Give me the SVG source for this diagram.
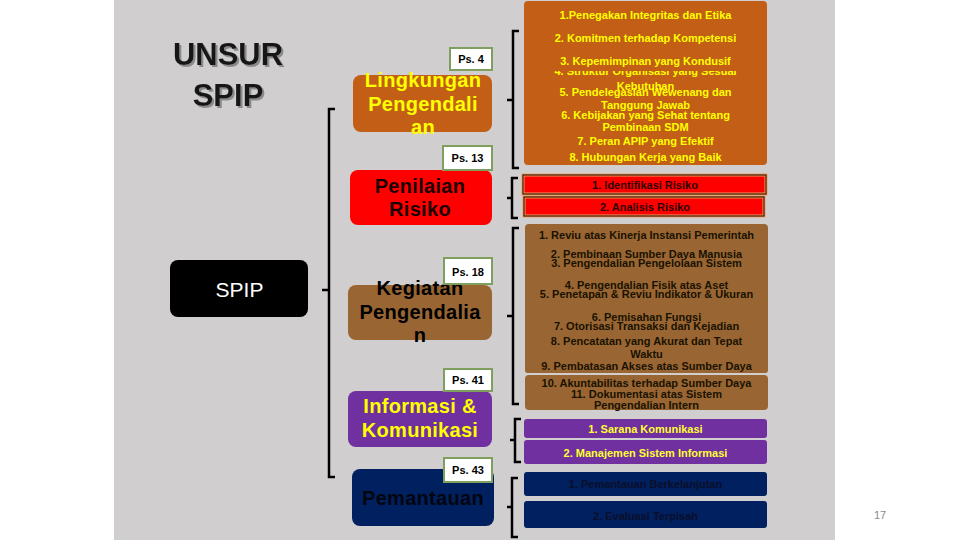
<svg xmlns="http://www.w3.org/2000/svg" width="960" height="540" viewBox="0 0 960 540">
<defs>
  <filter id="shadow" x="-10%" y="-10%" width="130%" height="140%">
    <feDropShadow dx="2" dy="2" stdDeviation="0.4" flood-color="#8A8A8A" flood-opacity="1"/>
  </filter>
</defs>
<style>
  text { font-family: "Liberation Sans", Arial, sans-serif; }
  .rt { font-weight: bold; font-size: 11px; text-anchor: middle; }
  .nt { font-weight: bold; font-size: 20px; text-anchor: middle; letter-spacing: 0.3px; }
  .ps rect { fill: #FFFFFF; stroke: #7F9F5F; stroke-width: 2; }
  .ps text { font-weight: bold; font-size: 11px; text-anchor: middle; fill: #000; }
  .br { fill: none; stroke: #000; stroke-width: 2.5; stroke-linejoin: miter; }
  .yel { fill: #FFFF00; }
  .dk { fill: #1A1200; }
</style>
<rect x="0" y="0" width="960" height="540" fill="#FFFFFF"/>
<rect x="114" y="0" width="721" height="540" fill="#D0CECF"/>

<g id="title" filter="url(#shadow)">
  <text x="228" y="65" class="nt" style="font-size:31px;fill:#151515;letter-spacing:0">UNSUR</text>
  <text x="228" y="106" class="nt" style="font-size:31px;fill:#151515;letter-spacing:0">SPIP</text>
</g>

<g id="node-spip">
  <rect x="170" y="260" width="138" height="57" rx="8" fill="#000000"/>
  <text x="239.5" y="297" style="font-size:21px;text-anchor:middle;fill:#FFFFFF">SPIP</text>
</g>

<g id="node-lingkungan">
  <rect x="353" y="75" width="139" height="57" rx="8" fill="#C25E16"/>
  <text x="423" y="87" class="nt yel">Lingkungan</text>
  <text x="423" y="111" class="nt yel">Pengendali</text>
  <text x="423" y="134" class="nt yel">an</text>
  <g class="ps"><rect x="450" y="48" width="42" height="22"/><text x="471" y="63">Ps. 4</text></g>
</g>

<g id="node-penilaian">
  <rect x="350" y="170" width="142" height="55" rx="8" fill="#FF0000"/>
  <text x="420" y="193" class="nt" fill="#1A0000">Penilaian</text>
  <text x="420" y="216" class="nt" fill="#1A0000">Risiko</text>
  <g class="ps"><rect x="443" y="146" width="49" height="24"/><text x="467.5" y="162">Ps. 13</text></g>
</g>

<g id="node-kegiatan">
  <rect x="348" y="285" width="144" height="55" rx="8" fill="#996633"/>
  <text x="420" y="295" class="nt" fill="#000">Kegiatan</text>
  <text x="420" y="319" class="nt" fill="#000">Pengendalia</text>
  <text x="420" y="342" class="nt" fill="#000">n</text>
  <g class="ps"><rect x="444" y="258" width="48" height="26"/><text x="468" y="276">Ps. 18</text></g>
</g>

<g id="node-informasi">
  <rect x="348" y="391" width="144" height="56" rx="8" fill="#7030A0"/>
  <text x="420" y="413" class="nt yel">Informasi &amp;</text>
  <text x="420" y="437" class="nt yel">Komunikasi</text>
  <g class="ps"><rect x="444" y="369" width="48" height="22"/><text x="468" y="384">Ps. 41</text></g>
</g>

<g id="node-pemantauan">
  <rect x="352" y="469" width="142" height="57" rx="8" fill="#002060"/>
  <text x="423" y="505" class="nt" fill="#03060F">Pemantauan</text>
  <g class="ps"><rect x="444" y="458" width="48" height="24"/><text x="468" y="474">Ps. 43</text></g>
</g>

<g id="list-lingkungan">
  <rect x="524" y="1" width="243" height="164" rx="4" fill="#C25E16"/>
  <text x="645.5" y="19" class="rt yel">1.Penegakan Integritas dan Etika</text>
  <text x="645.5" y="42" class="rt yel">2. Komitmen terhadap Kompetensi</text>
  <text x="645.5" y="75" class="rt yel">4. Struktur Organisasi yang Sesuai</text>
  <rect x="524" y="51" width="243" height="20" fill="#C25E16"/>
  <text x="645.5" y="65" class="rt yel">3. Kepemimpinan yang Kondusif</text>
  <text x="645.5" y="90" class="rt yel">Kebutuhan</text>
  <text x="645.5" y="96" class="rt yel">5. Pendelegasian Wewenang dan</text>
  <text x="645.5" y="109" class="rt yel">Tanggung Jawab</text>
  <text x="645.5" y="119" class="rt yel">6. Kebijakan yang Sehat tentang</text>
  <text x="645.5" y="131" class="rt yel">Pembinaan SDM</text>
  <text x="645.5" y="145" class="rt yel">7. Peran APIP yang Efektif</text>
  <text x="645.5" y="161" class="rt yel">8. Hubungan Kerja yang Baik</text>
</g>

<g id="list-risiko">
  <rect x="523" y="175" width="243" height="19" fill="#FF0000" stroke="#E8A060" stroke-width="3"/>
  <rect x="523" y="175" width="243" height="19" fill="none" stroke="#4A1500" stroke-width="1.2"/>
  <rect x="524" y="197" width="240" height="19" fill="#FF0000" stroke="#E8A060" stroke-width="3"/>
  <rect x="524" y="197" width="240" height="19" fill="none" stroke="#4A1500" stroke-width="1.2"/>
  <text x="645" y="189" class="rt" fill="#300000">1. Identifikasi Risiko</text>
  <text x="645" y="211" class="rt" fill="#300000">2. Analisis Risiko</text>
</g>

<g id="list-kegiatan">
  <rect x="525" y="224" width="243" height="149" rx="4" fill="#996633"/>
  <text x="646.5" y="239" class="rt dk">1. Reviu atas Kinerja Instansi Pemerintah</text>
  <text x="646.5" y="258" class="rt dk">2. Pembinaan Sumber Daya Manusia</text>
  <text x="646.5" y="267" class="rt dk">3. Pengendalian Pengelolaan Sistem</text>
  <text x="646.5" y="289" class="rt dk">4. Pengendalian Fisik atas Aset</text>
  <text x="646.5" y="298" class="rt dk">5. Penetapan &amp; Reviu Indikator &amp; Ukuran</text>
  <text x="646.5" y="321" class="rt dk">6. Pemisahan Fungsi</text>
  <text x="646.5" y="330" class="rt dk">7. Otorisasi Transaksi dan Kejadian</text>
  <text x="646.5" y="345" class="rt dk">8. Pencatatan yang Akurat dan Tepat</text>
  <text x="646.5" y="358" class="rt dk">Waktu</text>
  <rect x="525" y="358" width="243" height="15" rx="3" fill="#996633"/>
  <text x="646.5" y="370" class="rt dk">9. Pembatasan Akses atas Sumber Daya</text>
  <rect x="525" y="375" width="243" height="35" rx="4" fill="#996633"/>
  <text x="646.5" y="387" class="rt dk">10. Akuntabilitas terhadap Sumber Daya</text>
  <text x="646.5" y="398" class="rt dk">11. Dokumentasi atas Sistem</text>
  <text x="646.5" y="409" class="rt dk">Pengendalian Intern</text>
</g>

<g id="list-informasi">
  <rect x="524" y="419" width="243" height="19" rx="3" fill="#7030A0"/>
  <rect x="524" y="440" width="243" height="24" rx="3" fill="#7030A0"/>
  <text x="645.5" y="433" class="rt" fill="#FFFF33">1. Sarana Komunikasi</text>
  <text x="645.5" y="457" class="rt" fill="#FFFF33">2. Manajemen Sistem Informasi</text>
</g>

<g id="list-pemantauan">
  <rect x="524" y="472" width="243" height="24" rx="3" fill="#002060"/>
  <rect x="524" y="501" width="243" height="27" rx="3" fill="#002060"/>
  <text x="645.5" y="488" class="rt" fill="#0A0F2A">1. Pemantauan  Berkelanjutan</text>
  <text x="645.5" y="520" class="rt" fill="#0A0F2A">2. Evaluasi Terpisah</text>
</g>

<g id="connectors">
  <path class="br" d="M335,109 H329 V477 H335 M329,290 H322"/>
  <path class="br" d="M519,31 H513 V168 H519 M513,100 H507"/>
  <path class="br" d="M518,178 H512 V218 H518 M512,198 H507"/>
  <path class="br" d="M519,228 H513 V404 H519 M513,316 H507"/>
  <path class="br" d="M521,419 H515 V462 H521 M515,440 H510"/>
  <path class="br" d="M518,478 H512 V537 H518 M512,507 H507"/>
</g>

<text x="880" y="519" style="font-size:11px;text-anchor:middle;fill:#8A8A8A">17</text>
</svg>
